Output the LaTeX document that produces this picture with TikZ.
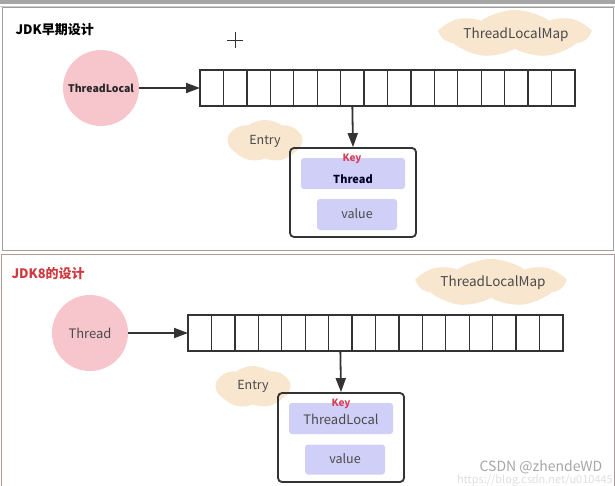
\documentclass[tikz,border=0pt]{standalone}
\usepackage{fontspec}
\setmainfont{Noto Sans CJK SC}
\usetikzlibrary{arrows.meta,shapes.symbols}
\definecolor{pinkc}{HTML}{F7C6CC}
\definecolor{beige}{HTML}{F8E6CF}
\definecolor{lav}{HTML}{CFCFF8}
\definecolor{keyred}{HTML}{D8405A}
\definecolor{titred}{HTML}{CF3A3E}
\definecolor{txt}{HTML}{4A4A4A}
\definecolor{ink}{HTML}{333333}
\tikzset{
  cell/.style={draw=ink, line width=1.3pt, minimum width=23.4375pt, minimum height=36pt, inner sep=0pt, outer sep=0pt},
  arr/.style={draw=ink, line width=1.8pt, -{Triangle[length=14pt,width=10pt]}},
  circ/.style={circle, fill=pinkc, minimum size=76pt, inner sep=0pt},
  cloudy/.style={cloud, cloud puffs=7, cloud puff arc=70, cloud ignores aspect, fill=beige, inner sep=0pt, text=txt},
  entrybox/.style={draw=ink, line width=1.8pt, rounded corners=4pt, inner sep=0pt},
  lavbox/.style={fill=lav, rounded corners=3pt, inner sep=0pt},
  frame/.style={draw=gray!75, line width=1pt},
}
\begin{document}
\begin{tikzpicture}[x=1pt, y=-1pt]
\useasboundingbox (0,0) rectangle (615,485);
\fill[white] (0,0) rectangle (615,485);
% top bar and frames
\fill[gray!70] (0,0) rectangle (615,4);
\draw[gray!40, line width=0.8pt] (0,6.5) -- (615,6.5);
\draw[frame] (2,7) rectangle (613,250.5);
\draw[draw=gray!60!pink, line width=1pt] (1,254) rectangle (614,486);

%================ top panel =================
\node[font=\bfseries\fontsize{13}{15}\selectfont, anchor=west, text=black] (t1) at (12,30) {JDK早期设计};
% cursor cross
\coordinate (cur) at (235,40);
\draw[ink, line width=0.8pt] ([xshift=-8pt]cur) -- ([xshift=8pt]cur) ([yshift=-8pt]cur) -- ([yshift=8pt]cur);

\node[cloudy, minimum width=146pt, minimum height=48pt] (map1) at (515,34) {};
\node[font=\fontsize{13.5}{15}\selectfont, text=txt] (map1t) at (516,35) {ThreadLocalMap};

\node[circ] (tl) at (101,88) {};
\node[font=\bfseries\fontsize{10.5}{12}\selectfont, text=black!85] (tlt) at (101,88) {ThreadLocal};

\foreach \i in {1,...,16}
  \node[cell] (a\i) at ({200+23.4375*(\i-0.5)},88) {};
\draw[arr] (tl.east) -- (a1.west);

\node[cloudy, minimum width=74pt, minimum height=42pt] (en1) at (265,141) {};
\node[font=\fontsize{12.5}{14}\selectfont, text=txt] (en1t) at (265,141) {Entry};

\node[entrybox, minimum width=126pt, minimum height=89pt] (box1) at (353,192.5) {};
\draw[arr] (a7.south) -- (box1.north);
\node[lavbox, minimum width=104pt, minimum height=31pt] (k1) at (353,173.5) {};
\node[font=\bfseries\fontsize{10}{11}\selectfont, text=keyred] (key1) at (352,158.5) {Key};
\node[font=\bfseries\fontsize{11}{12}\selectfont, text=black!85!blue] (th1) at (353,179.5) {Thread};
\node[lavbox, minimum width=80pt, minimum height=31pt] (v1) at (357,214.5) {};
\node[font=\fontsize{12.5}{14}\selectfont, text=txt] (v1t) at (357,214) {value};

%================ bottom panel =================
\node[font=\bfseries\fontsize{13}{15}\selectfont, anchor=west, text=titred] (t2) at (8,274) {JDK8的设计};

\node[cloudy, minimum width=144pt, minimum height=48pt] (map2) at (491,283) {};
\node[font=\fontsize{13.5}{15}\selectfont, text=txt] (map2t) at (493,283) {ThreadLocalMap};

\node[circ] (th) at (90,333) {};
\node[font=\fontsize{13}{15}\selectfont, text=txt] (tht) at (90,333) {Thread};

\foreach \i in {1,...,16}
  \node[cell] (b\i) at ({188+23.4375*(\i-0.5)},333) {};
\draw[arr] (th.east) -- (b1.west);

\node[cloudy, minimum width=74pt, minimum height=42pt] (en2) at (253,387) {};
\node[font=\fontsize{12.5}{14}\selectfont, text=txt] (en2t) at (253,386) {Entry};

\node[entrybox, minimum width=126pt, minimum height=89pt] (box2) at (341,437.5) {};
\draw[arr] (b7.south) -- (box2.north);
\node[lavbox, minimum width=104pt, minimum height=31pt] (k2) at (341,418.5) {};
\node[font=\bfseries\fontsize{10}{11}\selectfont, text=keyred] (key2) at (341,404) {Key};
\node[font=\fontsize{13}{15}\selectfont, text=txt] (tl2) at (341,419) {ThreadLocal};
\node[lavbox, minimum width=80pt, minimum height=30pt] (v2) at (345,459.5) {};
\node[font=\fontsize{12.5}{14}\selectfont, text=txt] (v2t) at (345,459) {value};

% watermark
\node[font=\fontsize{14}{16}\selectfont, text=gray!70, inner sep=0pt] (wm) at (541,467) {CSDN @zhendeWD};
\node[font=\fontsize{11}{12}\selectfont, text=gray!25, anchor=east, inner sep=0pt] (url) at (613,480) {https://blog.csdn.net/u010445};
\end{tikzpicture}
\end{document}
